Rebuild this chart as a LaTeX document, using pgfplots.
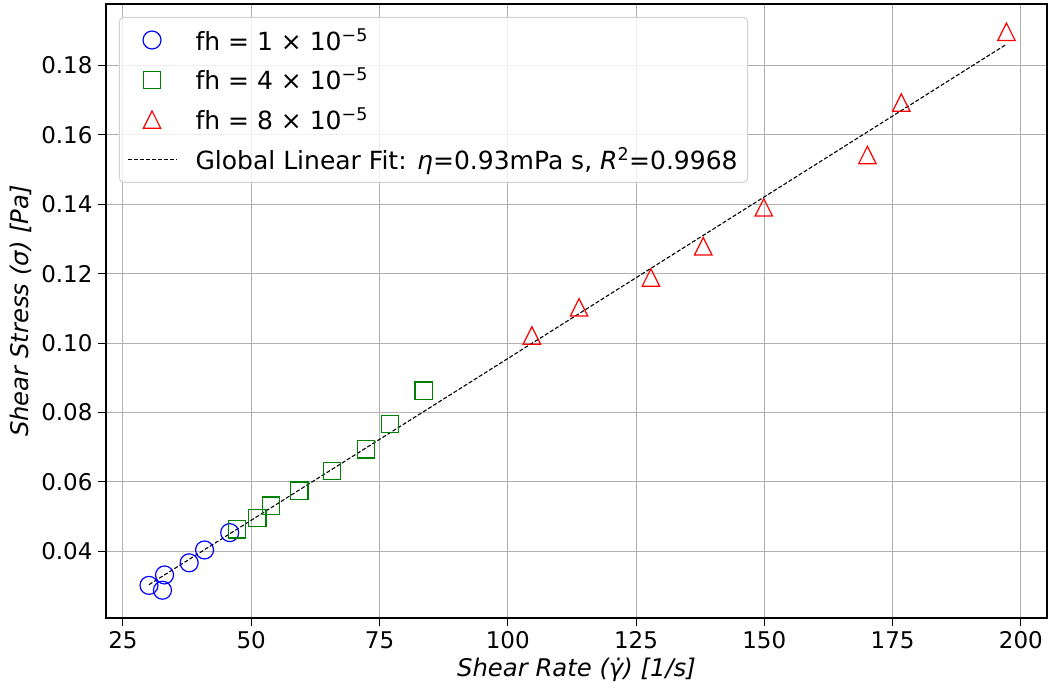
\documentclass[border=0pt]{standalone}
\usepackage{fontspec}
\setmainfont{DejaVu Sans}
\usepackage{pgfplots}
\pgfplotsset{compat=1.18}
\definecolor{mblue}{RGB}{0,0,255}
\definecolor{mgreen}{RGB}{0,128,0}
\definecolor{mred}{RGB}{255,0,0}
\definecolor{gridc}{RGB}{176,176,176}
\pgfdeclareplotmark{mtri}{%
  \pgfpathmoveto{\pgfqpoint{0pt}{\pgfplotmarksize}}%
  \pgfpathlineto{\pgfqpoint{-\pgfplotmarksize}{-\pgfplotmarksize}}%
  \pgfpathlineto{\pgfqpoint{\pgfplotmarksize}{-\pgfplotmarksize}}%
  \pgfpathclose\pgfusepathqstroke}
\pgfplotsset{
  markleg/.style={legend image code/.code={\draw[##1] plot coordinates {(24pt,0pt)};}},
  lineleg/.style={legend image code/.code={\draw[##1] (0pt,0pt) -- (49pt,0pt);}},
}
\begin{document}
\begin{tikzpicture}
\begin{axis}[
  scale only axis,
  width=941pt, height=614pt,
  xmin=21.69, xmax=205.1,
  ymin=0.0208, ymax=0.1977,
  xtick={25,50,75,100,125,150,175,200},
  ytick={0.04,0.06,0.08,0.10,0.12,0.14,0.16,0.18},
  yticklabel style={/pgf/number format/fixed,/pgf/number format/fixed zerofill,/pgf/number format/precision=2},
  scaled y ticks=false,
  /pgf/number format/assume math mode=true,
  tick label style={font=\fontsize{23}{27}\selectfont, black},
  label style={font=\fontsize{24.3}{28}\selectfont\itshape},
  xlabel={Shear Rate (γ̇) [1/s]},
  ylabel={Shear Stress (σ) [Pa]},
  xlabel style={at={(axis description cs:0.5,0)}, anchor=north, yshift=-37pt},
  ylabel style={at={(axis description cs:0,0.5)}, anchor=south, xshift=0pt, yshift=71pt},
  grid=major,
  major grid style={gridc, line width=1pt},
  axis line style={black, line width=1.2pt},
  tick align=outside,
  tick pos=left,
  major tick length=8pt,
  every tick/.style={black, line width=1pt},
  xticklabel style={yshift=-2pt},
  yticklabel style={xshift=-2pt},
  legend cell align=left,
  legend style={at={(0.0138,0.979)}, anchor=north west, draw=gray!35, rounded corners=4pt,
    fill=white, fill opacity=0.8, text opacity=1, line width=1pt,
    font=\fontsize{25}{29}\selectfont, inner xsep=8pt, inner ysep=9pt,
    row sep=12.5pt,
    /tikz/every odd column/.append style={column sep=16pt}},
]
\addplot[only marks, mark=o, mark size=9pt, mblue, line width=1.2pt, markleg]
coordinates {
(30.07,0.0302) (32.7,0.0288) (33.1,0.0332) (37.9,0.0367) (40.9,0.0404) (45.8,0.0454)
};
\addlegendentry{fh = 1 × 10\textsuperscript{−5}}
\addplot[only marks, mark=square, mark size=8.6pt, mgreen, line width=1.2pt, markleg]
coordinates {
(47.2,0.0463) (51.2,0.0496) (53.9,0.0532) (59.4,0.0575) (65.7,0.0632) (72.4,0.0694) (77.0,0.0767) (83.6,0.0863)
};
\addlegendentry{fh = 4 × 10\textsuperscript{−5}}
\addplot[only marks, mark=mtri, mark size=8.7pt, mred, line width=1.2pt, markleg]
coordinates {
(104.7,0.1022) (113.9,0.1103) (127.9,0.1189) (138.1,0.1279) (149.9,0.1391) (170.1,0.1542) (176.7,0.1693) (197.2,0.1897)
};
\addlegendentry{fh = 8 × 10\textsuperscript{−5}}
\addplot[black, line width=1.1pt, dash pattern=on 4pt off 2pt, lineleg]
coordinates {(30.07,0.0304) (197.2,0.1861)};
\addlegendentry{Global Linear Fit: \textit{η}=0.93mPa s, \textit{R}\textsuperscript{2}=0.9968}
\end{axis}
\pgfresetboundingbox
\path[use as bounding box] ([shift={(-106pt,-70pt)}]current axis.south west) rectangle ([shift={(1pt,4pt)}]current axis.north east);
\end{tikzpicture}
\end{document}
